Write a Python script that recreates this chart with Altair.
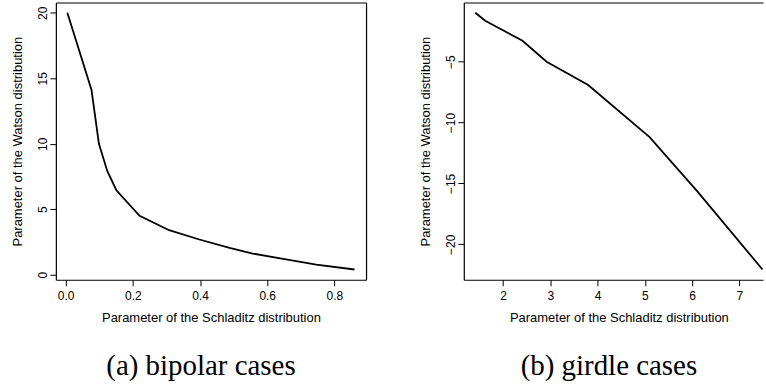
import altair as alt
import pandas as pd

# ---- data ----
bip_x = [0.005, 0.077, 0.099, 0.124, 0.151, 0.22, 0.308, 0.398, 0.488, 0.557, 0.656, 0.746, 0.86]
bip_y = [20.0, 14.1, 10.0, 7.9, 6.45, 4.5, 3.4, 2.69, 2.05, 1.62, 1.17, 0.78, 0.40]
gir_x = [1.41, 1.62, 2.41, 2.92, 3.80, 5.10, 6.12, 7.49]
gir_y = [-0.98, -1.64, -3.28, -5.0, -6.92, -11.2, -15.7, -22.07]

bip_xticks = [0, 0.2, 0.4, 0.6, 0.8]
bip_yticks = [0, 5, 10, 15, 20]
gir_xticks = [2, 3, 4, 5, 6, 7]
gir_yticks = [-20, -15, -10, -5]

xtitle = "Parameter of the Schladitz distribution"
ytitle = "Parameter of the Watson distribution"
captions = ["(a) bipolar cases", "(b) girdle cases"]

W, H = 311, 278
SANS = "Liberation Sans"
SERIF = "Liberation Serif"
BOX = 1.2


def rdomain(vals):
    lo, hi = min(vals), max(vals)
    pad = (hi - lo) * 0.04
    return [lo - pad, hi + pad]


def panel(xs, ys, xticks, yticks, xfmt, yfmt, caption, width, right_border, cap_dx):
    df = pd.DataFrame({"x": xs, "y": ys})
    xd = rdomain(xs)
    # the right panel is cut by the page edge: keep the same scale, shorter view
    xd = [xd[0], xd[0] + (xd[1] - xd[0]) * width / W]
    yd = rdomain(ys)
    xs_ = alt.Scale(domain=xd, nice=False, zero=False)
    ys_ = alt.Scale(domain=yd, nice=False, zero=False)

    xaxis = alt.Axis(
        values=xticks, format=xfmt, title=xtitle, grid=False,
        domain=True, domainColor="black", domainWidth=BOX,
        tickSize=6, tickColor="black", tickWidth=1,
        labelFont=SANS, labelFontSize=12, labelColor="black",
        labelBaseline="alphabetic", labelPadding=14, labelFlush=False, labelOverlap=False,
        titleFont=SANS, titleFontSize=13, titleFontWeight="normal", titleColor="black",
        titleX=W / 2, titleY=42, titleBaseline="alphabetic", titleAlign="center",
    )
    yaxis = alt.Axis(
        values=yticks, format=yfmt, title=ytitle, grid=False,
        domain=True, domainColor="black", domainWidth=BOX,
        tickSize=6, tickColor="black", tickWidth=1,
        labelFont=SANS, labelFontSize=12, labelColor="black",
        labelAngle=270, labelAlign="center", labelBaseline="alphabetic",
        labelPadding=3, labelFlush=False, labelOverlap=False,
        titleFont=SANS, titleFontSize=13, titleFontWeight="normal", titleColor="black",
        titleAngle=270, titleX=-34, titleY=H / 2, titleAlign="center",
        titleBaseline="alphabetic",
    )
    top_axis = alt.Axis(
        orient="top", domain=True, domainColor="black", domainWidth=BOX,
        ticks=False, labels=False, grid=False, title=None,
    )
    right_axis = alt.Axis(
        orient="right", domain=True, domainColor="black", domainWidth=BOX,
        ticks=False, labels=False, grid=False, title=None,
    )

    line = (
        alt.Chart(df)
        .mark_line(color="black", strokeWidth=1.8, clip=True)
        .encode(
            x=alt.X("x:Q", scale=xs_, axis=xaxis),
            y=alt.Y("y:Q", scale=ys_, axis=yaxis),
        )
    )
    frame = (
        alt.Chart(df)
        .mark_point(opacity=0)
        .encode(
            x=alt.X("x:Q", scale=xs_, axis=top_axis),
            y=alt.Y("y:Q", scale=ys_, axis=right_axis if right_border else None),
        )
    )
    return (
        alt.layer(line, frame)
        .resolve_axis(x="independent", y="independent")
        .properties(
            width=width,
            height=H,
            title=alt.TitleParams(
                text=caption, orient="bottom", font=SERIF, fontSize=29,
                fontWeight="normal", color="black", anchor="middle", frame="group",
                baseline="alphabetic", offset=50, dx=cap_dx,
            ),
        )
    )


RW = 300
left = panel(bip_x, bip_y, bip_xticks, bip_yticks, ".1f", "d", captions[0], W, True, -10)
right = panel(gir_x, gir_y, gir_xticks, gir_yticks, "d", "d", captions[1], RW, False,
              -10 + (W - RW) / 2)

chart = (
    alt.hconcat(left, right, spacing=54)
    .properties(padding={"left": 12, "top": 2, "right": 0, "bottom": 0}, background="white")
    .configure_view(stroke=None)
)

chart.save("out.html", embed_options={"renderer": "svg", "actions": False})
